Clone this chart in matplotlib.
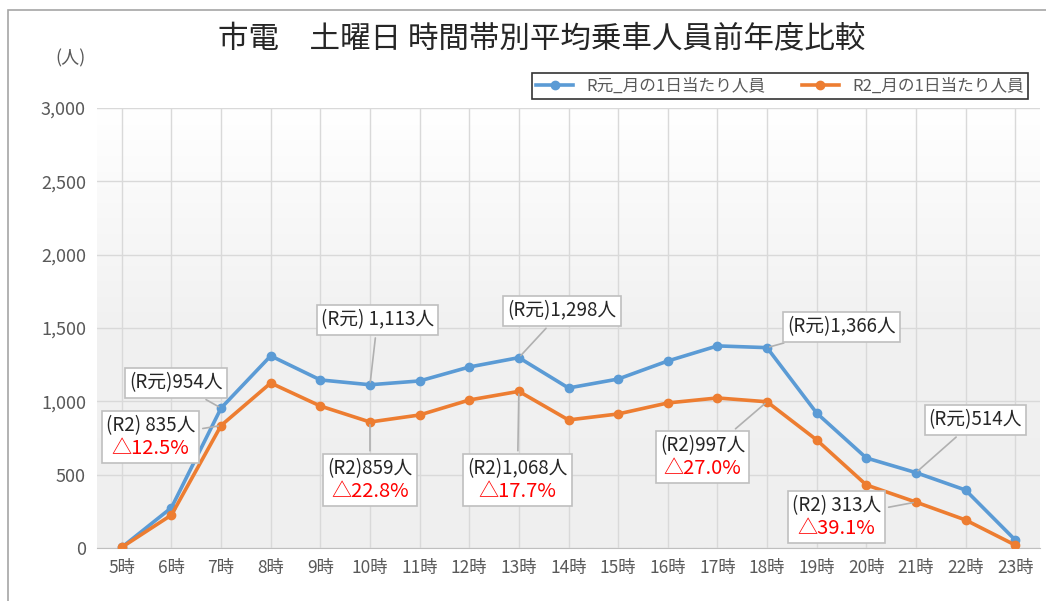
import numpy as np
import matplotlib.pyplot as plt
from matplotlib.offsetbox import TextArea, VPacker, AnnotationBbox
from matplotlib.colors import LinearSegmentedColormap
from matplotlib.patches import Rectangle

plt.rcParams['font.family'] = ['Noto Sans CJK JP', 'DejaVu Sans']

BLUE = "#5B9BD5"; ORANGE = "#ED7D31"; GRID = "#d9d9d9"; TXT = "#595959"

hours = [f"{h}時" for h in range(5, 24)]
r1 = [5, 275, 954, 1310, 1146, 1113, 1139, 1234, 1298, 1091, 1152, 1275, 1378, 1366, 920, 614, 514, 395, 55]
r2 = [5, 225, 835, 1125, 968, 859, 907, 1009, 1068, 873, 914, 989, 1023, 997, 737, 430, 313, 191, 20]
yticks = [0, 500, 1000, 1500, 2000, 2500, 3000]

# callouts: (index, text, box x, box y)
notes_r1 = [(2, "(R元)954人", 1.1, 1125), (5, "(R元) 1,113人", 5.15, 1555),
            (8, "(R元)1,298人", 8.87, 1616), (13, "(R元)1,366人", 14.5, 1507),
            (16, "(R元)514人", 17.2, 873)]
# (index, text, change, box x, box y)
notes_r2 = [(2, "(R2) 835人", "△12.5%", 0.58, 757), (5, "(R2)859人", "△22.8%", 5.0, 464),
            (8, "(R2)1,068人", "△17.7%", 7.97, 464), (13, "(R2)997人", "△27.0%", 11.7, 620),
            (16, "(R2) 313人", "△39.1%", 14.4, 211)]

fig = plt.figure(figsize=(10.46, 6.01), dpi=100)
ax = fig.add_axes([97/1046, 1-548/601, (1040-97)/1046, (548-108)/601])
x = np.arange(len(hours))

# plot area gradient
cmap = LinearSegmentedColormap.from_list("g", ["#efefef", "#f1f1f1", "#ffffff"])
grad = np.linspace(0, 1, 256).reshape(-1, 1)
ax.imshow(grad, extent=[-0.5, len(hours)-0.5, 0, 3000], origin="lower", aspect="auto",
          cmap=cmap, zorder=0)

ax.plot(x, r1, color=BLUE, lw=2.6, marker="o", ms=6, label="R元_月の1日当たり人員", zorder=3)
ax.plot(x, r2, color=ORANGE, lw=2.6, marker="o", ms=6, label="R2_月の1日当たり人員", zorder=3)

ax.set_xlim(-0.5, len(hours)-0.5)
ax.set_ylim(0, 3000)
ax.set_xticks(x)
ax.set_xticklabels(hours, fontsize=12.5, color=TXT)
ax.set_yticks(yticks)
ax.set_yticklabels([f"{v:,}" for v in yticks], fontsize=13, color=TXT)
ax.tick_params(length=0, pad=8)
ax.grid(True, color=GRID, lw=1)
ax.set_axisbelow(False)
for s in ["top", "right", "left"]:
    ax.spines[s].set_visible(False)
ax.spines["bottom"].set_color("#bfbfbf")
for gl in ax.get_xgridlines() + ax.get_ygridlines():
    gl.set_zorder(1)

box = dict(edgecolor="#bfbfbf", facecolor="white", lw=1.2)
arrow = dict(arrowstyle="-", color="#b0b0b0", lw=1.2)

for i, t, bx, by in notes_r1:
    ta = TextArea(t, textprops=dict(fontsize=13.5, color="#262626"))
    ab = AnnotationBbox(ta, (x[i], r1[i]), xybox=(bx, by), boxcoords="data",
                        bboxprops=box, arrowprops=arrow, pad=0.3, zorder=5)
    ax.add_artist(ab)

for i, t, d, bx, by in notes_r2:
    pk = VPacker(children=[TextArea(t, textprops=dict(fontsize=13.5, color="#262626")),
                           TextArea(d, textprops=dict(fontsize=14.5, color="#ff0000"))],
                 align="center", pad=0, sep=1)
    ab = AnnotationBbox(pk, (x[i], r2[i]), xybox=(bx, by), boxcoords="data",
                        bboxprops=box, arrowprops=arrow, pad=0.3, zorder=5)
    ax.add_artist(ab)

leg = ax.legend(loc="upper right", bbox_to_anchor=(1036/1046, 1-65/601),
                bbox_transform=fig.transFigure, ncol=2, fontsize=12, frameon=True,
                fancybox=False, edgecolor="black", borderpad=0.25, columnspacing=2.2,
                handlelength=2.2)
leg.get_frame().set_linewidth(1.2)
for t in leg.get_texts():
    t.set_color(TXT)

fig.text(0.518, 0.933, "市電　土曜日 時間帯別平均乗車人員前年度比較", ha="center", va="center",
         fontsize=22, color="#262626")
fig.text(0.067, 0.903, "(人)", ha="center", va="center", fontsize=13, color=TXT)

fig.patches.append(Rectangle((8/1046, -0.1), 1.2, 1-10/601+0.1, transform=fig.transFigure,
                             fill=False, edgecolor="#a6a6a6", lw=1.2))

fig.savefig("out.png", dpi=100, facecolor="white")
